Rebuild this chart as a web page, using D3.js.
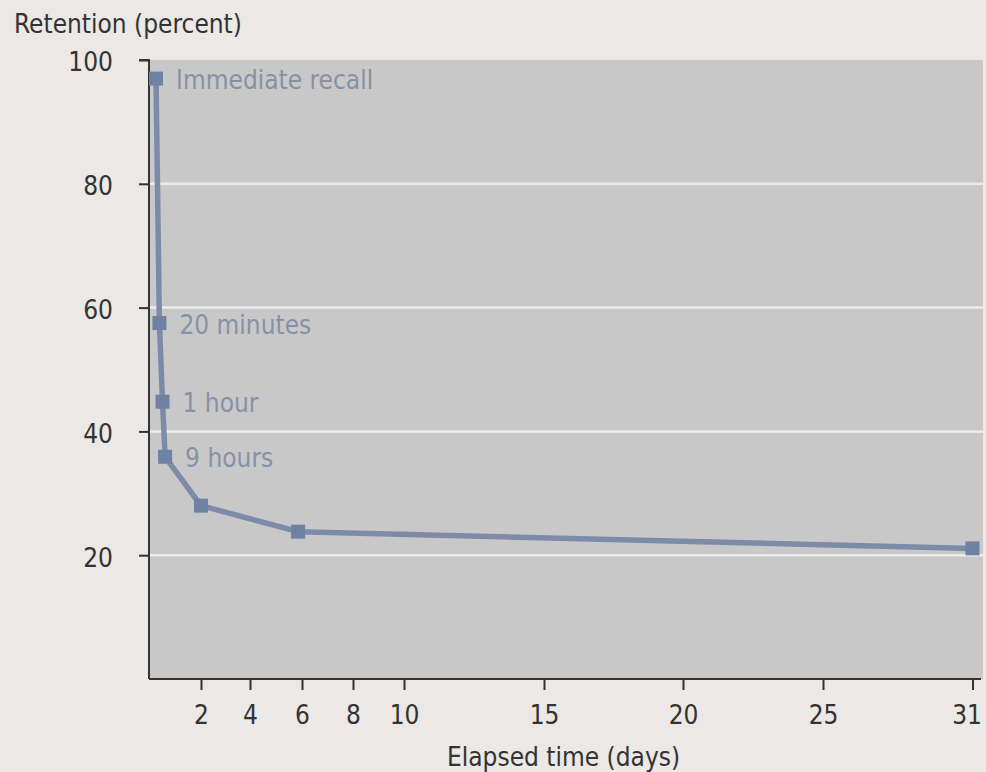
<!DOCTYPE html>
<html>
<head>
<meta charset="utf-8">
<script src="https://cdn.jsdelivr.net/npm/d3@7"></script>
<style>
  html, body { margin: 0; padding: 0; background: #ebe8e5; }
  svg { display: block; }
  text { font-family: "DejaVu Sans Condensed", "DejaVu Sans", Verdana, sans-serif; font-stretch: condensed; }
</style>
</head>
<body>
<svg id="chart" width="986" height="772"></svg>
<script>
// ---- data ----
const pointLabels = ["Immediate recall", "20 minutes", "1 hour", "9 hours", "", "", ""];
const elapsedDays = [0.27, 0.4, 0.52, 0.62, 2, 5.85, 31];
const retention   = [97, 57.5, 44.8, 35.9, 28, 23.8, 21.1];
const xTicks = [2, 4, 6, 8, 10, 15, 20, 25, 31];
const yTicks = [20, 40, 60, 80, 100];
const yGrid  = [20, 40, 60, 80];

// the original x axis is not evenly spaced: piecewise scale through its tick positions
const xBreaks = [0, 2, 4, 6, 8, 10, 15, 20, 25, 31];
const xBreakPx = [149, 201, 250, 302, 353, 404, 544, 683, 823, 972.5];

(function () {
const FONT = '"DejaVu Sans Condensed", "DejaVu Sans", Verdana, sans-serif';
const FS = 26;
const svg = d3.select("#chart");
const pLeft = 149, pRight = 983, pTop = 60, pBottom = 679;

const x = d3.scaleLinear().domain(xBreaks).range(xBreakPx);
const y = d3.scaleLinear().domain([0, 100]).range([pBottom, pTop]);

// plot background
svg.append("rect")
  .attr("x", pLeft).attr("y", pTop)
  .attr("width", pRight - pLeft).attr("height", pBottom - pTop)
  .attr("fill", "#c8c8c8");

// gridlines
svg.append("g").selectAll("line").data(yGrid).join("line")
  .attr("x1", pLeft).attr("x2", pRight)
  .attr("y1", d => y(d)).attr("y2", d => y(d))
  .attr("stroke", "#ececec").attr("stroke-width", 2.5);

// axes
const yAxis = d3.axisLeft(y).tickValues(yTicks).tickSize(10).tickPadding(26);
const gy = svg.append("g").attr("transform", `translate(${pLeft},0)`).call(yAxis);
gy.select(".domain").attr("d", `M-10,${pTop}H0V${pBottom}`);

const xAxis = d3.axisBottom(x).tickValues(xTicks).tickSize(11).tickPadding(16);
const gx = svg.append("g").attr("transform", `translate(0,${pBottom})`).call(xAxis);
gx.select(".domain").attr("d", `M${pLeft},0H${pRight - 2}`);

[gx, gy].forEach(g => {
  g.selectAll(".domain").attr("stroke", "#333").attr("stroke-width", 2).attr("fill", "none");
  g.selectAll(".tick line").attr("stroke", "#333").attr("stroke-width", 2);
  g.selectAll(".tick text").attr("fill", "#333").attr("font-size", FS)
    .attr("font-family", FONT);
});
gy.selectAll(".tick text").attr("dy", "0.42em");
// keep the last x label inside the page, as in the original
gx.selectAll(".tick").filter(d => d === xTicks[xTicks.length - 1])
  .select("text").attr("dx", -6);

// axis titles
svg.append("text").attr("x", 14).attr("y", 33)
  .attr("font-size", FS).attr("fill", "#333").text("Retention (percent)");
svg.append("text").attr("x", 447).attr("y", 766)
  .attr("font-size", FS).attr("fill", "#333").text("Elapsed time (days)");

// data
const pts = elapsedDays.map((d, i) => ({ d, r: retention[i], label: pointLabels[i] }));

const line = d3.line().x(p => x(p.d)).y(p => y(p.r));
svg.append("path").datum(pts)
  .attr("d", line)
  .attr("fill", "none").attr("stroke", "#7e8ba8").attr("stroke-width", 5.5)
  .attr("stroke-linejoin", "round");

const ms = 14;
svg.append("g").selectAll("rect").data(pts).join("rect")
  .attr("x", p => x(p.d) - ms / 2).attr("y", p => y(p.r) - ms / 2)
  .attr("width", ms).attr("height", ms)
  .attr("fill", "#6f82a3");

svg.append("g").selectAll("text").data(pts.filter(p => p.label)).join("text")
  .attr("x", p => x(p.d) + 20).attr("y", p => y(p.r) + 3)
  .attr("dominant-baseline", "middle")
  .attr("font-size", FS).attr("fill", "#8791a6")
  .text(p => p.label);
})();
</script>
</body>
</html>
